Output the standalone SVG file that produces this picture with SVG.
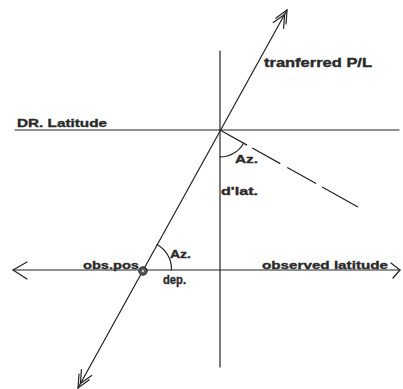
<svg xmlns="http://www.w3.org/2000/svg" width="403" height="389" viewBox="0 0 403 389">
<style>
.ln{stroke:#222;stroke-width:1.2;fill:none;stroke-linecap:round}
.t{font-family:"Liberation Sans",Arial,sans-serif;font-weight:bold;fill:#2a2a2a;stroke:#2a2a2a;stroke-width:0.35;font-size:11px}
</style>
<rect width="403" height="389" fill="#fff"/>
<g id="connectors">
<line class="ln" x1="220" y1="51" x2="220" y2="367"/>
<line class="ln" x1="15" y1="130" x2="399" y2="130"/>
<line class="ln" x1="13" y1="270" x2="400" y2="270"/>
<line class="ln" x1="287" y1="10" x2="78" y2="388"/>
<line class="ln" x1="220" y1="130" x2="358" y2="207" stroke-dasharray="31 6 32 8 33 7 41" style="stroke-linecap:butt"/>
<path class="ln" d="M220,157 A27,27 0 0 0 243.6,143.2"/>
<path class="ln" d="M157,244.5 A28,28 0 0 1 171.5,270"/>
<path class="ln" d="M275.7,18.2 L287,10 L286,24 M273.3,22.6 L284.6,14.4 L283.6,28.4"/>
<path class="ln" d="M89.3,379.8 L78,388 L79,374 M91.7,375.4 L80.4,383.6 L81.4,369.6"/>
<path class="ln" d="M27,262 L13,270 L27,279"/>
<path class="ln" d="M391,263 L400,270 L393,278"/>
</g>
<g id="obs-pos">
<circle cx="143" cy="271" r="4.2" fill="#555" stroke="#222" stroke-width="1"/>
<circle cx="143" cy="271" r="1.2" fill="#ccc"/>
<text class="t" x="83" y="269" textLength="56" lengthAdjust="spacingAndGlyphs">obs.pos</text>
</g>
<g id="labels">
<text class="t" x="264" y="67" textLength="108" lengthAdjust="spacingAndGlyphs" style="font-size:12px">tranferred P/L</text>
<text class="t" x="17" y="127" textLength="90" lengthAdjust="spacingAndGlyphs">DR. Latitude</text>
<text class="t" x="235" y="163" textLength="23" lengthAdjust="spacingAndGlyphs">Az.</text>
<text class="t" x="221" y="195" textLength="37" lengthAdjust="spacingAndGlyphs">d'lat.</text>
<text class="t" x="170" y="258" textLength="21" lengthAdjust="spacingAndGlyphs">Az.</text>
<text class="t" x="163" y="284" textLength="23" lengthAdjust="spacingAndGlyphs" style="font-size:12px">dep.</text>
<text class="t" x="262" y="269" textLength="126" lengthAdjust="spacingAndGlyphs">observed latitude</text>
</g>
</svg>
